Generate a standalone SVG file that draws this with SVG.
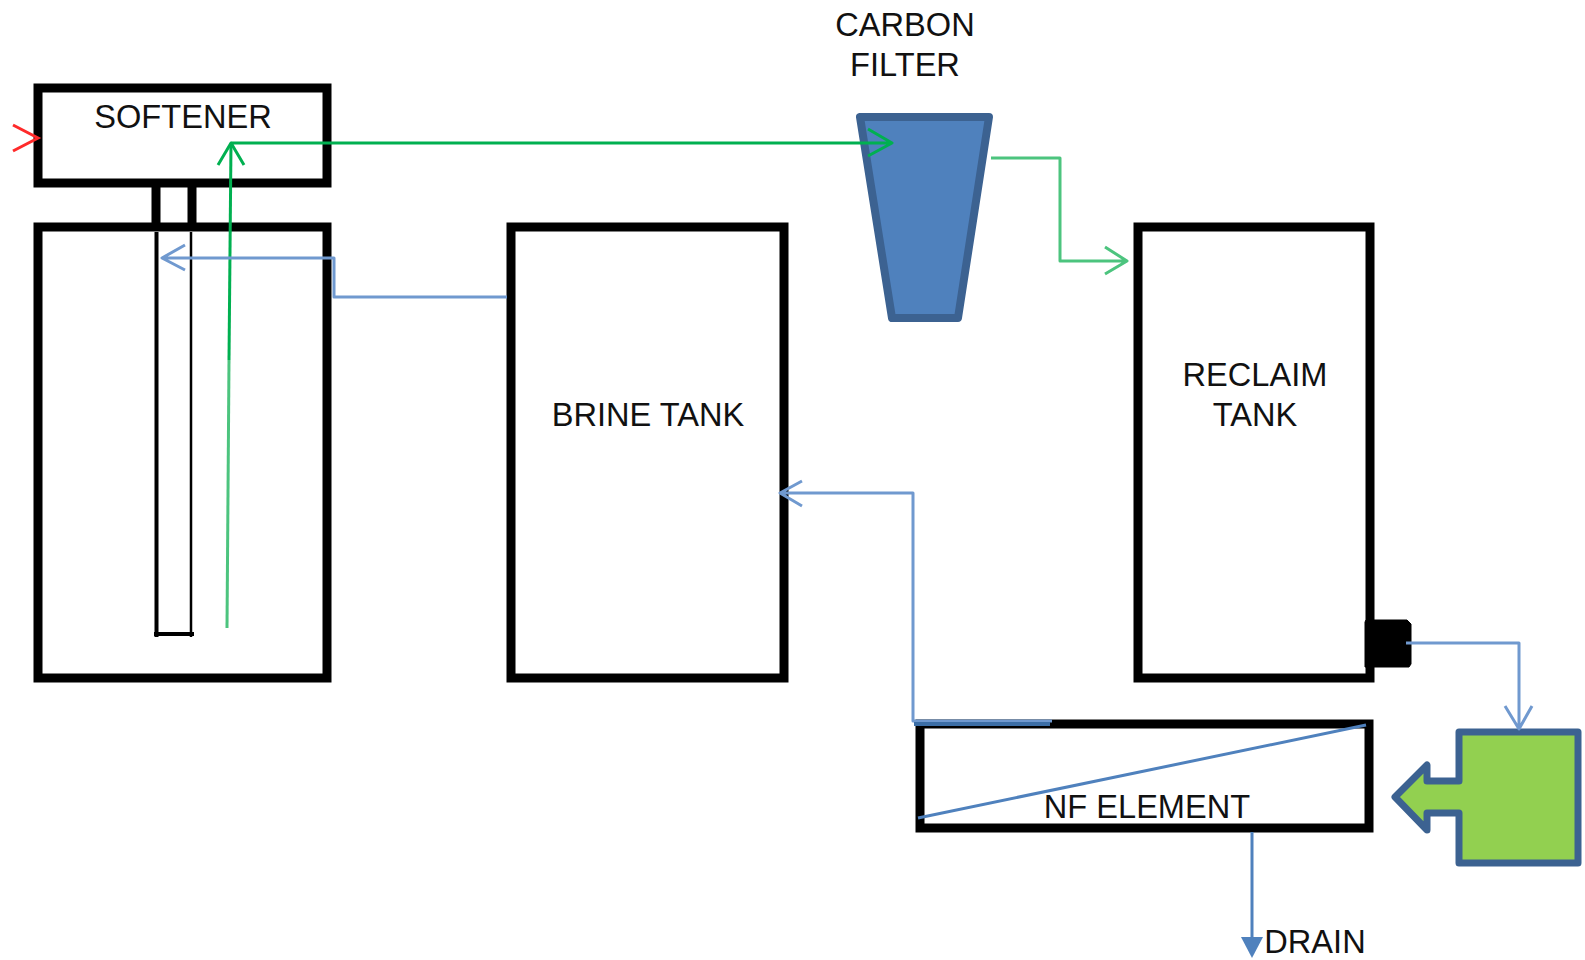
<svg xmlns="http://www.w3.org/2000/svg" width="1585" height="960" viewBox="0 0 1585 960">
<style>
.box{fill:none;stroke:#000;stroke-width:9;stroke-linejoin:miter}
.t{font-family:"Liberation Sans",Arial,sans-serif;font-size:32.6px;fill:#111;text-anchor:middle}
.b{fill:none;stroke:#7099cf;stroke-width:3;stroke-linejoin:round}
.bd{fill:none;stroke:#4f81bd;stroke-width:3;stroke-linejoin:round}
.g{fill:none;stroke:#00b050;stroke-width:3;stroke-linejoin:round}
.gl{fill:none;stroke:#4cc47e;stroke-width:3;stroke-linejoin:round}
</style>
<rect width="1585" height="960" fill="#fff"/>
<g id="softener">
<rect class="box" x="38" y="88" width="289" height="95"/>
<path d="M156 186V224M192 186V224" fill="none" stroke="#000" stroke-width="9"/>
<text class="t" x="183" y="128">SOFTENER</text>
</g>
<g id="softener-tank">
<rect class="box" x="38" y="227" width="289" height="451"/>
<path d="M156.500 232V637" fill="none" stroke="#000" stroke-width="4"/>
<path d="M191 232V637" fill="none" stroke="#000" stroke-width="2.500"/>
<path d="M154 634H194" fill="none" stroke="#000" stroke-width="4"/>
</g>
<g id="brine-tank">
<rect class="box" x="511" y="227" width="273" height="451"/>
<text class="t" x="648" y="426">BRINE TANK</text>
</g>
<g id="carbon-filter">
<path d="M860 117H989L958 318H892Z" fill="#4f81bd" stroke="#3c6291" stroke-width="8" stroke-linejoin="round"/>
<text class="t" x="905" y="36">CARBON</text>
<text class="t" x="905" y="76">FILTER</text>
</g>
<g id="reclaim-tank">
<rect class="box" x="1138" y="227" width="232" height="451"/>
<path d="M1366 620H1407L1411 624V664L1409 667H1365V622Z" fill="#000" stroke="#000"/>
<text class="t" x="1255" y="386">RECLAIM</text>
<text class="t" x="1255" y="426">TANK</text>
</g>
<g id="nf-element">
<rect class="box" x="920" y="724" width="449" height="104"/>
<text class="t" x="1147" y="818">NF ELEMENT</text>
</g>
<g id="pump">
<path d="M1459 732H1578V863H1459V813H1427V830L1395 797L1427 765V781H1459Z" fill="#92d050" stroke="#3c6291" stroke-width="7" stroke-linejoin="round"/>
</g>
<g id="drain">
<text class="t" x="1315" y="953">DRAIN</text>
</g>
<g id="connectors">
<path class="g" d="M231 143H892M868 129L892 143L868 156M218 165L231 143L244 165" stroke-width="3.500"/>
<path class="g" d="M231 143L229 360"/>
<path class="gl" d="M229 360L227 628"/>
<path class="gl" d="M991 158H1060V261H1127M1105 247L1127 261L1105 274"/>
<path d="M13 125L38 138L13 151" fill="none" stroke="#ff2a2a" stroke-width="3"/>
<path class="b" d="M507 297H334V258H162M185 245L162 258L185 270"/>
<path class="b" d="M1052 721H913V493H780M802 481L780 493L802 506"/>
<path d="M914 724H1050" fill="none" stroke="#3c6ea6" stroke-width="4"/>
<path class="bd" d="M918 818L1366 725" stroke-width="2.500"/>
<path class="b" d="M1406 643H1519V729M1505 706L1519 729L1532 706"/>
<path class="bd" d="M1252 832V940"/>
<path d="M1241 937H1263L1252 958Z" fill="#4f81bd"/>
</g>
</svg>
